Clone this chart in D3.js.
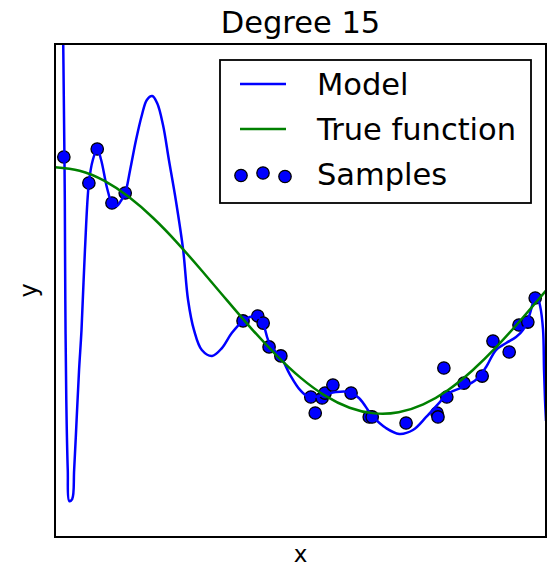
<!DOCTYPE html>
<html>
<head>
<meta charset="utf-8">
<script src="https://cdn.jsdelivr.net/npm/d3@7"></script>
<style>
  body { margin: 0; background: #fff; }
  text { font-family: "DejaVu Sans", sans-serif; fill: #000; }
</style>
</head>
<body>
<div id="chart"></div>
<script>
const WIDTH = 552;
const HEIGHT = 569;
const margin = { top: 44, right: 6, bottom: 32, left: 55 };

// noisy samples
const sampleX = [0.018, 0.069, 0.086, 0.116, 0.143, 0.383, 0.413, 0.424, 0.436, 0.460,
    0.521, 0.530, 0.544, 0.550, 0.566, 0.603, 0.640, 0.646, 0.715, 0.778,
    0.780, 0.792, 0.798, 0.833, 0.870, 0.892, 0.925, 0.945, 0.963, 0.978];
const sampleY = [1.083, 0.872, 1.148, 0.710, 0.791, -0.247, -0.207, -0.264, -0.458, -0.531,
    -0.864, -0.994, -0.872, -0.832, -0.767, -0.832, -1.026, -1.026, -1.075, -0.994,
    -1.026, -0.629, -0.864, -0.751, -0.694, -0.410, -0.499, -0.280, -0.256, -0.061];

// true function
const trueX = [0, 0.05, 0.1, 0.15, 0.2, 0.25, 0.3, 0.35, 0.4, 0.45, 0.5,
    0.55, 0.6, 0.65, 0.7, 0.75, 0.8, 0.85, 0.9, 0.95, 1.0];
const trueY = [1.0, 0.972, 0.891, 0.760, 0.588, 0.383, 0.156, -0.078, -0.309, -0.522, -0.707,
    -0.853, -0.951, -0.997, -0.988, -0.924, -0.809, -0.649, -0.454, -0.233, 0.0];

// degree 15 model
const modelX = [0.016, 0.018, 0.020, 0.021, 0.023, 0.026, 0.029, 0.035, 0.039, 0.044,
    0.049, 0.054, 0.061, 0.069, 0.077, 0.086, 0.094, 0.106, 0.116, 0.126,
    0.134, 0.143, 0.153, 0.165, 0.177, 0.187, 0.198, 0.208, 0.220, 0.232,
    0.246, 0.261, 0.271, 0.283, 0.299, 0.320, 0.340, 0.360, 0.383, 0.397,
    0.413, 0.424, 0.434, 0.446, 0.460, 0.479, 0.499, 0.517, 0.546, 0.572,
    0.599, 0.619, 0.648, 0.674, 0.701, 0.729, 0.756, 0.782, 0.802, 0.831,
    0.857, 0.878, 0.898, 0.919, 0.939, 0.953, 0.965, 0.976, 0.982, 0.988,
    0.994, 0.996, 0.998, 1.0];
const modelY = [2.276, 1.546, 0.734, -0.077, -0.888, -1.456, -1.708, -1.692, -1.456, -1.051,
    -0.645, -0.320, 0.329, 0.872, 1.059, 1.148, 1.059, 0.832, 0.710, 0.686,
    0.726, 0.791, 0.978, 1.221, 1.424, 1.546, 1.578, 1.521, 1.343, 1.059,
    0.734, 0.329, -0.077, -0.320, -0.483, -0.531, -0.467, -0.345, -0.247, -0.215,
    -0.215, -0.272, -0.402, -0.483, -0.540, -0.686, -0.807, -0.864, -0.848, -0.824,
    -0.824, -0.872, -1.026, -1.116, -1.164, -1.132, -1.026, -0.913, -0.832, -0.783,
    -0.726, -0.621, -0.483, -0.426, -0.377, -0.320, -0.215, -0.077, -0.053, -0.126,
    -0.320, -0.645, -0.888, -1.059];

const legendLabels = ["Model", "True function", "Samples"];

const svg = d3.select("#chart").append("svg")
    .attr("width", WIDTH)
    .attr("height", HEIGHT)
    .attr("viewBox", [0, 0, WIDTH, HEIGHT]);

const x = d3.scaleLinear().domain([0, 1]).range([margin.left, WIDTH - margin.right]);
const y = d3.scaleLinear().domain([-2, 2]).range([HEIGHT - margin.bottom, margin.top]);

svg.append("clipPath")
    .attr("id", "plot-clip")
  .append("rect")
    .attr("x", x(0))
    .attr("y", y(2))
    .attr("width", x(1) - x(0))
    .attr("height", y(-2) - y(2));

const plot = svg.append("g").attr("clip-path", "url(#plot-clip)");

// scatter (below the lines, like matplotlib)
plot.append("g")
    .selectAll("circle")
    .data(d3.range(sampleX.length))
    .join("circle")
        .attr("cx", i => x(sampleX[i]))
        .attr("cy", i => y(sampleY[i]))
        .attr("r", 6.2)
        .attr("fill", "#0000ff")
        .attr("stroke", "#000")
        .attr("stroke-width", 1.3);

const modelLine = d3.line()
    .x(i => x(modelX[i]))
    .y(i => y(modelY[i]))
    .curve(d3.curveCatmullRom.alpha(0.5));

const trueLine = d3.line()
    .x(i => x(trueX[i]))
    .y(i => y(trueY[i]))
    .curve(d3.curveNatural);

plot.append("path")
    .attr("d", modelLine(d3.range(modelX.length)))
    .attr("fill", "none")
    .attr("stroke", "#0000ff")
    .attr("stroke-width", 2.5);

plot.append("path")
    .attr("d", trueLine(d3.range(trueX.length)))
    .attr("fill", "none")
    .attr("stroke", "#008000")
    .attr("stroke-width", 2.5);

// frame
svg.append("rect")
    .attr("x", x(0))
    .attr("y", y(2))
    .attr("width", x(1) - x(0))
    .attr("height", y(-2) - y(2))
    .attr("fill", "none")
    .attr("stroke", "#000")
    .attr("stroke-width", 2);

// title and axis labels
svg.append("text")
    .attr("x", (x(0) + x(1)) / 2)
    .attr("y", 33)
    .attr("text-anchor", "middle")
    .attr("font-size", 30.5)
    .text("Degree 15");

svg.append("text")
    .attr("x", (x(0) + x(1)) / 2)
    .attr("y", 562)
    .attr("text-anchor", "middle")
    .attr("font-size", 23)
    .text("x");

svg.append("text")
    .attr("transform", `translate(36.5,${(y(2) + y(-2)) / 2}) rotate(-90)`)
    .attr("text-anchor", "middle")
    .attr("font-size", 24)
    .text("y");

// legend
const legend = svg.append("g").attr("transform", "translate(220,60)");
legend.append("rect")
    .attr("width", 311)
    .attr("height", 143)
    .attr("fill", "#fff")
    .attr("stroke", "#000")
    .attr("stroke-width", 1.8);

const rowY = [24, 69, 114];
const swatchColors = ["#0000ff", "#008000"];
swatchColors.forEach((c, i) => {
    legend.append("line")
        .attr("x1", 20).attr("x2", 66)
        .attr("y1", rowY[i]).attr("y2", rowY[i])
        .attr("stroke", c)
        .attr("stroke-width", 2.5);
});

const dotDx = [21, 43, 65];
const dotDy = [1.5, -1, 2.5];
legend.selectAll("circle")
    .data(dotDx)
    .join("circle")
        .attr("cx", d => d)
        .attr("cy", (d, i) => rowY[2] + dotDy[i])
        .attr("r", 6.2)
        .attr("fill", "#0000ff")
        .attr("stroke", "#000")
        .attr("stroke-width", 1.3);

legend.selectAll("text.label")
    .data(legendLabels)
    .join("text")
        .attr("class", "label")
        .attr("x", 97)
        .attr("y", (d, i) => rowY[i] + 11)
        .attr("font-size", 30.5)
        .text(d => d);
</script>
</body>
</html>
